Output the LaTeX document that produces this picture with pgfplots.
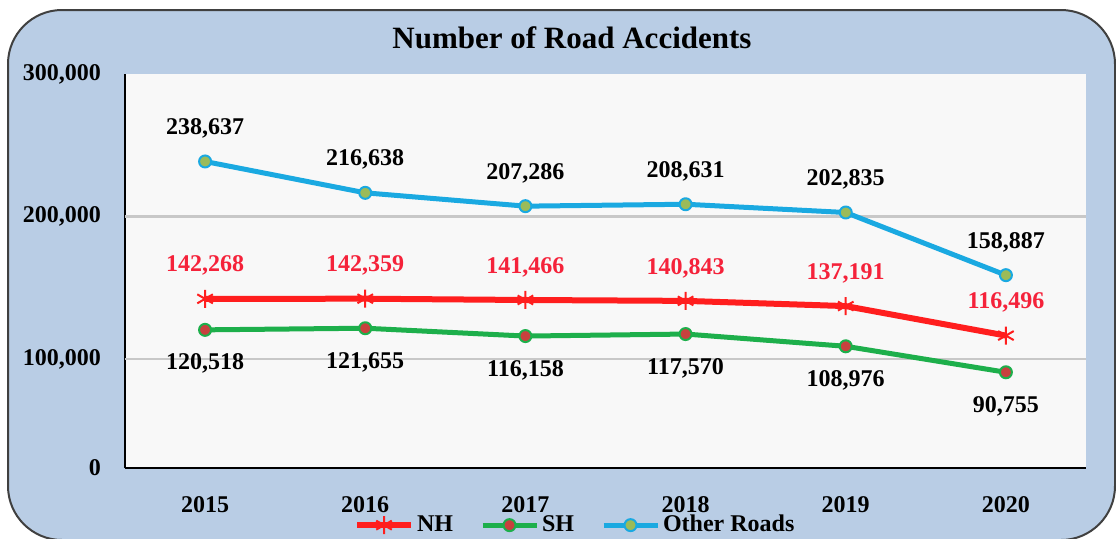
\documentclass[border=0pt]{standalone}
\usepackage{fontspec}
\setmainfont{Liberation Serif}
\usepackage{pgfplots}
\pgfplotsset{compat=1.18}
\definecolor{framebg}{HTML}{B9CDE5}
\definecolor{framedraw}{HTML}{404040}
\definecolor{plotbg}{HTML}{F8F8F8}
\definecolor{gridc}{HTML}{C8C8C8}
\definecolor{nhred}{HTML}{FF1E1E}
\definecolor{nhlabel}{HTML}{F5223A}
\definecolor{shgreen}{HTML}{1DAF4B}
\definecolor{shfill}{HTML}{C8413E}
\definecolor{orblue}{HTML}{1AA9E1}
\definecolor{orfill}{HTML}{9BBB59}
\begin{document}
\begin{tikzpicture}[x=1pt,y=1pt]
\useasboundingbox (0,0) rectangle (558,269);
\begin{scope}
\clip (0,0) rectangle (558,269);
\draw[line width=1pt, draw=framedraw, fill=framebg, rounded corners=27pt] (4,-1) rectangle (557.5,264);
\end{scope}
\node[font=\bfseries\fontsize{15.5}{16}\selectfont] at (286,250) {Number of Road Accidents};
\begin{axis}[
  at={(62.5pt,35pt)}, anchor=south west,
  width=480.5pt, height=197pt, scale only axis,
  xmin=-0.5, xmax=5.5, ymin=23600, ymax=300000,
  scaled y ticks=false,
  axis x line*=bottom, axis y line*=left,
  axis line style={black, line width=0.8pt, -},
  xtick={0,1,2,3,4,5}, xticklabels={2015,2016,2017,2018,2019,2020},
  ytick={23600,100000,200000,300000}, yticklabels={0,{100,000},{200,000},{300,000}},
  major tick length=0pt,
  tick label style={font=\bfseries\fontsize{12}{12}\selectfont},
  xticklabel style={yshift=-10.5pt},
  yticklabel style={xshift=-8.5pt},
  extra y ticks={100000,200000}, extra y tick labels={},
  extra tick style={grid=major, major grid style={gridc, line width=1.2pt}},
  axis background/.style={fill=plotbg},
  clip=false,
  legend columns=3,
  legend cell align=left,
  legend style={at={(0.469,-0.145)}, anchor=center, draw=none, fill=none,
    font=\bfseries\fontsize{12}{12}\selectfont, inner sep=0pt,
    nodes={inner sep=1.5pt},
    /tikz/every even column/.append style={column sep=12pt}},
  legend image code/.code={\draw[mark repeat=2,mark phase=2,#1] plot coordinates {(0pt,0pt) (13.5pt,0pt) (27pt,0pt)};},
  nodes near coords,
  point meta=explicit symbolic,
  nodes near coords style={font=\bfseries\fontsize{12}{12}\selectfont, anchor=center, inner sep=0pt},
]
\addplot[nhred, line width=3pt, line join=round, mark=asterisk, mark size=4.5pt,
  mark options={line width=1pt, solid},
  nodes near coords style={text=nhlabel, yshift=16.5pt}]
  table[meta=l] {
x y l
0 142268 142,268
1 142359 142,359
2 141466 141,466
3 140843 140,843
4 137191 137,191
5 116496 116,496
};
\addlegendentry{NH}
\addplot[shgreen, line width=2.5pt, line join=round, mark=*, mark size=3pt,
  mark options={line width=1pt, fill=shfill, draw=shgreen, solid},
  nodes near coords style={text=black, yshift=-17pt}]
  table[meta=l] {
x y l
0 120518 120,518
1 121655 121,655
2 116158 116,158
3 117570 117,570
4 108976 108,976
5 90755 90,755
};
\addlegendentry{SH}
\addplot[orblue, line width=2.5pt, line join=round, mark=*, mark size=3pt,
  mark options={line width=1pt, fill=orfill, draw=orblue, solid},
  nodes near coords style={text=black, yshift=16.5pt}]
  table[meta=l] {
x y l
0 238637 238,637
1 216638 216,638
2 207286 207,286
3 208631 208,631
4 202835 202,835
5 158887 158,887
};
\addlegendentry{Other Roads}
\end{axis}
\end{tikzpicture}
\end{document}
